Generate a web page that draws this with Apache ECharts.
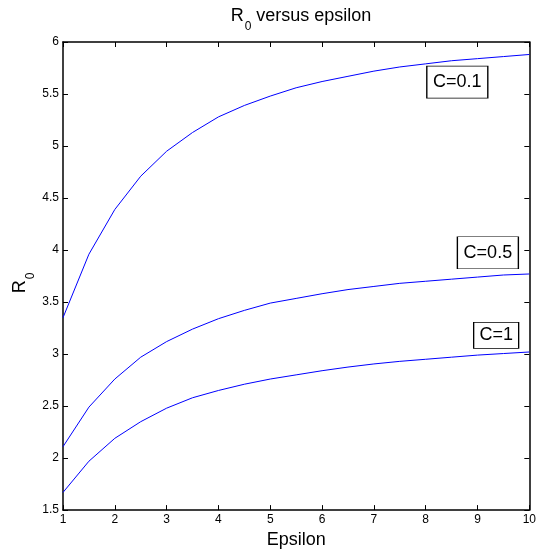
<!DOCTYPE html>
<html>
<head>
<meta charset="utf-8">
<script src="https://cdn.jsdelivr.net/npm/echarts@6/dist/echarts.min.js"></script>
<style>
html,body{margin:0;padding:0;background:#fff;}
#chart{width:539px;height:554px;}
</style>
</head>
<body>
<div id="chart"></div>
<script>
const epsilon = [1, 1.5, 2, 2.5, 3, 3.5, 4, 4.5, 5, 5.5, 6, 6.5, 7, 7.5, 8, 8.5, 9, 9.5, 10];
const r0C01 = [3.35, 3.96, 4.39, 4.71, 4.95, 5.13, 5.28, 5.39, 5.48, 5.56, 5.62, 5.67, 5.72, 5.76, 5.79, 5.82, 5.84, 5.86, 5.88];
const r0C05 = [2.11, 2.49, 2.76, 2.97, 3.12, 3.24, 3.34, 3.42, 3.49, 3.535, 3.58, 3.62, 3.65, 3.68, 3.70, 3.72, 3.74, 3.76, 3.77];
const r0C1 = [1.67, 1.97, 2.19, 2.35, 2.48, 2.58, 2.65, 2.71, 2.76, 2.80, 2.84, 2.875, 2.905, 2.93, 2.95, 2.97, 2.99, 3.005, 3.02];
const curveLabels = ['C=0.1', 'C=0.5', 'C=1'];
const xTicks = [1, 10, 1];      // min, max, interval
const yTicks = [1.5, 6, 0.5];   // min, max, interval

const FONT = '"Liberation Sans", Arial, Helvetica, sans-serif';
const chart = echarts.init(document.getElementById('chart'), null, {renderer: 'canvas'});

function pairs(ys) { return epsilon.map((x, i) => [x, ys[i]]); }

function axisCommon(extra) {
  return Object.assign({
    type: 'value',
    axisLine: {show: true, onZero: false, lineStyle: {color: '#000', width: 1.5}},
    axisTick: {show: true, inside: true, length: 5, lineStyle: {color: '#000', width: 1}},
    splitLine: {show: false},
    axisLabel: {show: false}
  }, extra);
}

function boxLabel(text, coord, w, h) {
  return {
    coord: coord,
    symbol: 'rect',
    symbolSize: [w, h],
    itemStyle: {color: '#fff', borderColor: '#000', borderWidth: 1},
    label: {show: true, position: 'inside', formatter: text, color: '#000', fontSize: 18, fontFamily: FONT}
  };
}

function lineSeries(name, ys, mark) {
  return {
    name: name,
    type: 'line',
    data: pairs(ys),
    showSymbol: false,
    symbol: 'none',
    smooth: false,
    lineStyle: {color: '#0000ff', width: 1},
    itemStyle: {color: '#0000ff'},
    animation: false,
    markPoint: {silent: true, animation: false, data: [mark]}
  };
}

const richSub = {
  r: {fontSize: 18, fontFamily: FONT, fill: '#000', color: '#000', lineHeight: 20, verticalAlign: 'top'},
  s: {fontSize: 12, fontFamily: FONT, fill: '#000', color: '#000', lineHeight: 12, padding: [14, 0, 0, 1], verticalAlign: 'top'}
};

const option = {
  animation: false,
  backgroundColor: '#fff',
  grid: {left: 63, right: 7, top: 42, bottom: 41, containLabel: false},
  xAxis: [
    axisCommon({
      position: 'bottom', min: xTicks[0], max: xTicks[1], interval: xTicks[2],
      axisLabel: {show: true, margin: 4, color: '#000', fontSize: 12, fontFamily: FONT},
      name: 'Epsilon', nameLocation: 'middle', nameGap: 16,
      nameTextStyle: {color: '#000', fontSize: 18, fontFamily: FONT}
    }),
    axisCommon({position: 'top', min: xTicks[0], max: xTicks[1], interval: xTicks[2]})
  ],
  yAxis: [
    axisCommon({
      position: 'left', min: yTicks[0], max: yTicks[1], interval: yTicks[2],
      axisLabel: {show: true, margin: 4, color: '#000', fontSize: 12, fontFamily: FONT}
    }),
    axisCommon({position: 'right', min: yTicks[0], max: yTicks[1], interval: yTicks[2]})
  ],
  graphic: [
    {
      type: 'text', x: 301, y: 7, silent: true,
      style: {text: '{r|R}{s|0}{r| versus epsilon}', align: 'center', verticalAlign: 'top', rich: richSub}
    },
    {
      type: 'text', x: 11, y: 283, rotation: Math.PI / 2, silent: true,
      style: {text: '{r|R}{s|0}', align: 'center', verticalAlign: 'top', rich: richSub}
    }
  ],
  series: [
    lineSeries(curveLabels[0], r0C01, boxLabel(curveLabels[0], [8.61, 5.615], 61, 32)),
    lineSeries(curveLabels[1], r0C05, boxLabel(curveLabels[1], [9.20, 3.974], 61, 32)),
    lineSeries(curveLabels[2], r0C1, boxLabel(curveLabels[2], [9.36, 3.18], 45, 26))
  ]
};
chart.setOption(option);
</script>
</body>
</html>
